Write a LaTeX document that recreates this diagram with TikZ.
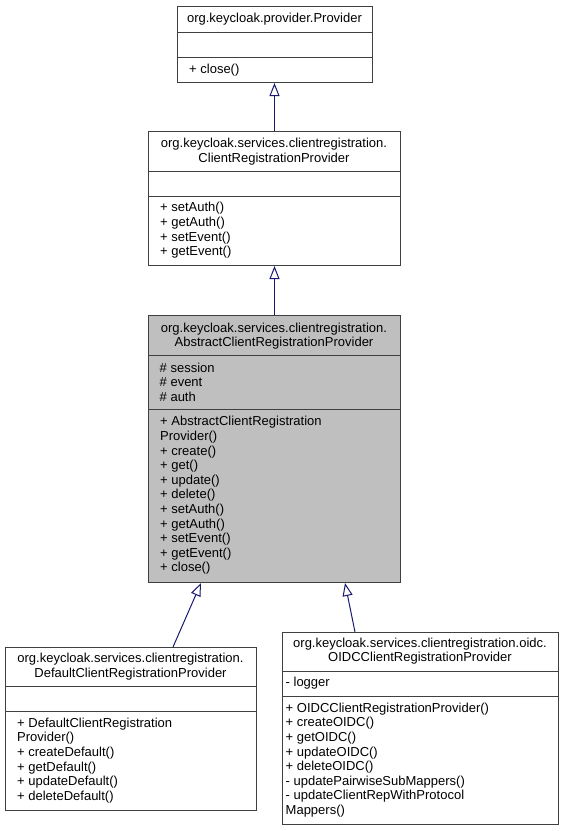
\documentclass[tikz,border=0pt]{standalone}
\usepackage{fontspec}
\setmainfont{Liberation Sans}
\usetikzlibrary{arrows.meta,calc}
\definecolor{edgeblue}{RGB}{25,25,112}
\definecolor{boxline}{RGB}{64,64,64}
\definecolor{absfill}{RGB}{191,191,191}
\tikzset{
 classbox/.style={draw=boxline, line width=1pt, fill=white, rectangle, inner sep=0pt, anchor=north west},
 sepline/.style={draw=boxline, line width=1pt},
 txt/.style={font=\fontsize{13}{14.6}\selectfont, inner sep=0pt, align=left, anchor=west},
 ttl/.style={font=\fontsize{13}{14.6}\selectfont, inner sep=0pt, align=center},
 inherit/.style={draw=edgeblue, line width=1pt, -{Triangle[length=13pt,width=10pt,fill=white]}},
}
\begin{document}
\begin{tikzpicture}[x=1pt,y=-1pt]
\useasboundingbox (0,0) rectangle (565,831);
% Provider
\node[classbox, minimum width=195pt, minimum height=76pt] (prov) at (177,6) {};
\draw[sepline] (prov.west |- 0,32) -- (prov.east |- 0,32);
\draw[sepline] (prov.west |- 0,57) -- (prov.east |- 0,57);
\node[ttl] (provT) at (274.5,19) {org.keycloak.provider.Provider};
\node[txt] (provM) at (189,70) {+ close()};
% ClientRegistrationProvider
\node[classbox, minimum width=252pt, minimum height=134pt] (crp) at (148,131) {};
\draw[sepline] (crp.west |- 0,171) -- (crp.east |- 0,171);
\draw[sepline] (crp.west |- 0,196) -- (crp.east |- 0,196);
\node[ttl] (crpT) at (274,151.5) {org.keycloak.services.clientregistration.\\ClientRegistrationProvider};
\node[txt] (crpM) at (160,230.5) {+ setAuth()\\+ getAuth()\\+ setEvent()\\+ getEvent()};
% AbstractClientRegistrationProvider
\node[classbox, fill=absfill, minimum width=252pt, minimum height=267pt] (abs) at (148,315) {};
\draw[sepline] (abs.west |- 0,355) -- (abs.east |- 0,355);
\draw[sepline] (abs.west |- 0,409) -- (abs.east |- 0,409);
\node[ttl] (absT) at (274,336) {org.keycloak.services.clientregistration.\\AbstractClientRegistrationProvider};
\node[txt] (absA) at (159.5,382) {\# session\\\# event\\\# auth};
\node[txt] (absM) at (160,495.5) {+ AbstractClientRegistration\\Provider()\\+ create()\\+ get()\\+ update()\\+ delete()\\+ setAuth()\\+ getAuth()\\+ setEvent()\\+ getEvent()\\+ close()};
% DefaultClientRegistrationProvider
\node[classbox, minimum width=251pt, minimum height=163pt] (def) at (5,647) {};
\draw[sepline] (def.west |- 0,686) -- (def.east |- 0,686);
\draw[sepline] (def.west |- 0,711) -- (def.east |- 0,711);
\node[ttl] (defT) at (130.5,666.5) {org.keycloak.services.clientregistration.\\DefaultClientRegistrationProvider};
\node[txt] (defM) at (17,760.5) {+ DefaultClientRegistration\\Provider()\\+ createDefault()\\+ getDefault()\\+ updateDefault()\\+ deleteDefault()};
% OIDCClientRegistrationProvider
\node[classbox, minimum width=276pt, minimum height=192pt] (oidc) at (282,632) {};
\draw[sepline] (oidc.west |- 0,671) -- (oidc.east |- 0,671);
\draw[sepline] (oidc.west |- 0,696) -- (oidc.east |- 0,696);
\node[ttl] (oidcT) at (420,651) {org.keycloak.services.clientregistration.oidc.\\OIDCClientRegistrationProvider};
\node[txt] (oidcA) at (285.5,683.5) {- logger};
\node[txt] (oidcM) at (285.5,760) {+ OIDCClientRegistrationProvider()\\+ createOIDC()\\+ getOIDC()\\+ updateOIDC()\\+ deleteOIDC()\\- updatePairwiseSubMappers()\\- updateClientRepWithProtocol\\Mappers()};
% inheritance connectors
\draw[inherit] (crp.north) -- (crp.north |- prov.south);
\draw[inherit] (abs.north) -- (abs.north |- crp.south);
\draw[inherit] ([xshift=168pt]def.north west) -- ([xshift=53pt]abs.south west);
\draw[inherit] ([xshift=73pt]oidc.north west) -- ([xshift=197pt]abs.south west);
\end{tikzpicture}
\end{document}
